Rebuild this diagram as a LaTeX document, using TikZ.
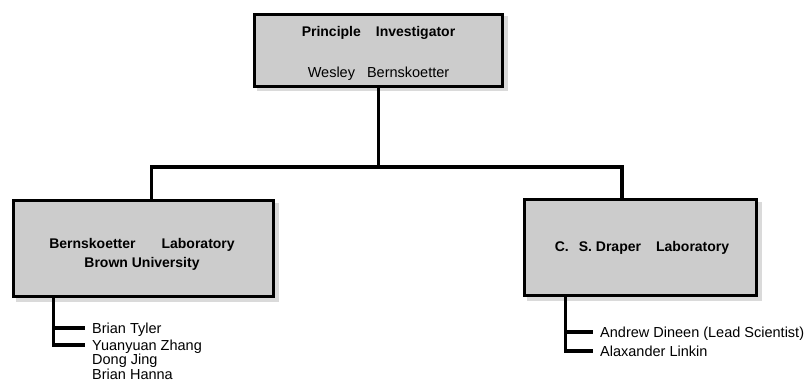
\documentclass[tikz,border=0pt]{standalone}
\usepackage{fontspec}
\setmainfont{Liberation Sans}
\definecolor{boxfill}{RGB}{204,204,204}
\definecolor{boxshade}{RGB}{218,218,218}
\begin{document}
\begin{tikzpicture}[x=1pt,y=-1pt,
  orgbox/.style={rectangle, draw=black, line width=3pt, fill=boxfill, inner sep=0pt,
    preaction={draw=boxshade, fill=boxshade, line width=3pt,
      transform canvas={xshift=3.5pt,yshift=-3.5pt}}},
  conn/.style={line width=3.2pt, line join=miter},
  boxtext/.style={font=\fontsize{14}{16}\selectfont\bfseries, anchor=base, inner sep=0pt},
  nametext/.style={font=\fontsize{14.5}{16}\selectfont, anchor=base, inner sep=0pt},
  member/.style={font=\fontsize{14.5}{16}\selectfont, anchor=west, inner xsep=7pt,
    inner ysep=0pt, text height=10pt, text depth=0pt}]
\useasboundingbox (0,0) rectangle (805,382);

% principal investigator
\node[orgbox, minimum width=248pt, minimum height=72pt] (pi) at (378.5,50.5) {};
\node[boxtext] (piTitle) at ([yshift=13.5pt]pi.center) {Principle\hspace{15pt}Investigator};
\node[nametext] (piName) at ([yshift=-27.5pt]pi.center) {Wesley\hspace{12pt}Bernskoetter};

% the two laboratories
\node[orgbox, minimum width=260pt, minimum height=96pt] (bl) at (143.5,248.5) {};
\node[boxtext] (blLine1) at ([xshift=-1.5pt,yshift=0.5pt]bl.center) {Bernskoetter\hspace{26pt}Laboratory};
\node[boxtext] (blLine2) at ([xshift=-1.5pt,yshift=-18.5pt]bl.center) {Brown University};

\node[orgbox, minimum width=232pt, minimum height=96pt] (csd) at (640.5,247.5) {};
\node[boxtext] (csdName) at ([xshift=1.5pt,yshift=-3.5pt]csd.center) {C.\hspace{10pt}S. Draper\hspace{15pt}Laboratory};

% tree connectors
\coordinate (busL) at (151.5,167);
\coordinate (busR) at (622,167);
\draw[conn] (pi.south) -- (pi.south |- busL);
\draw[conn] (bl.north -| busL) -- (busL) -- (busR) -- (csd.north -| busR);

% Brown University team
\coordinate (blSpine) at ([xshift=41.5pt]bl.south west);
\node[member] (m1) at (85,328) {Brian Tyler};
\node[member] (m2) at (85,345) {Yuanyuan Zhang};
\node[member] (m3) at (85,359.5) {Dong Jing};
\node[member] (m4) at (85,374) {Brian Hanna};
\draw[conn] (blSpine) |- (m1.west);
\draw[conn] (blSpine) |- (m2.west);

% Draper team
\coordinate (csdSpine) at ([xshift=42.5pt]csd.south west);
\node[member] (r1) at (593,332) {Andrew Dineen (Lead Scientist)};
\node[member] (r2) at (593,351) {Alaxander Linkin};
\draw[conn] (csdSpine) |- (r1.west);
\draw[conn] (csdSpine) |- (r2.west);
\end{tikzpicture}
\end{document}
